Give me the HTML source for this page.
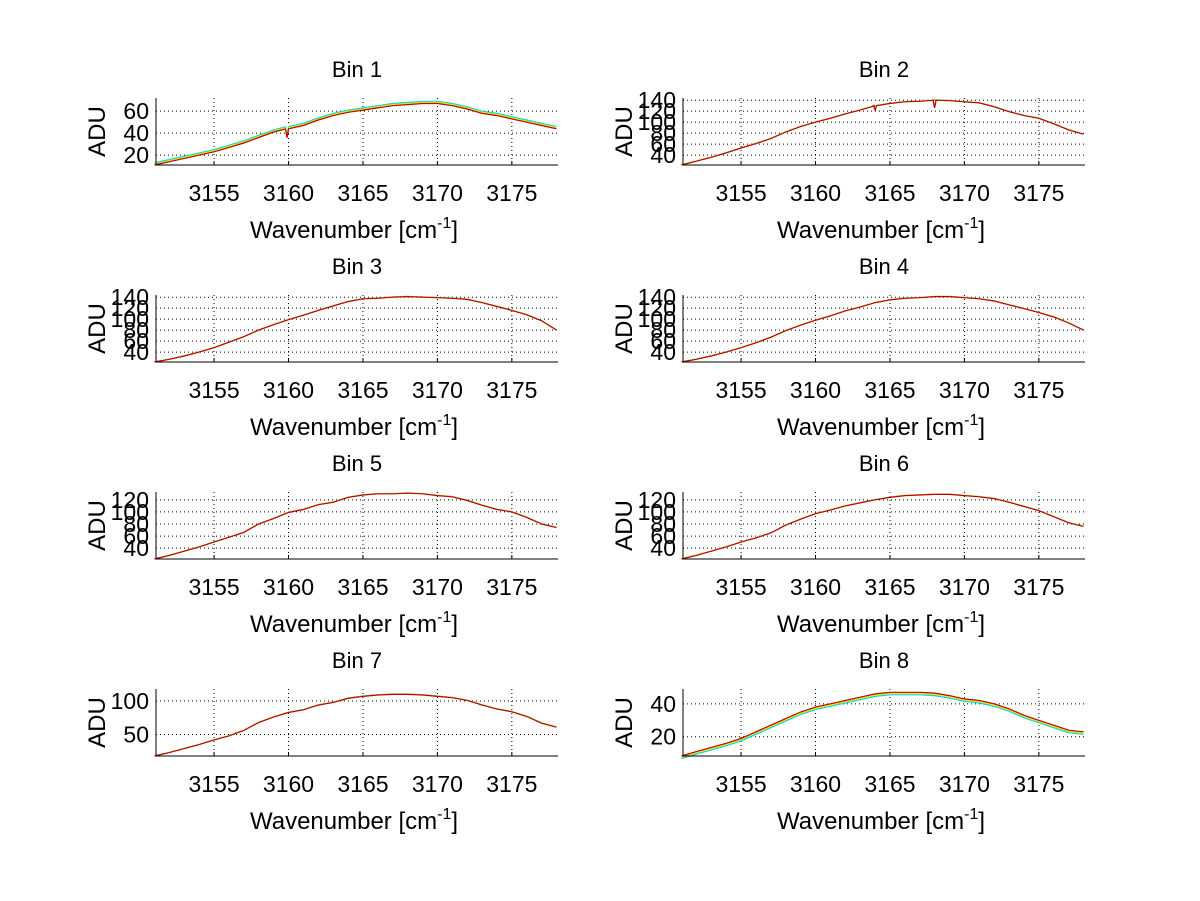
<!DOCTYPE html>
<html><head><meta charset="utf-8">
<style>
html,body{margin:0;padding:0;background:#fff;}
svg{display:block;font-family:"Liberation Sans",sans-serif;}
</style></head>
<body>
<svg id="fig" width="1200" height="901" viewBox="0 0 1200 901" xmlns="http://www.w3.org/2000/svg"></svg>
<script>
// ---- data ----
const wavenumbers = [3151,3152,3153,3154,3155,3156,3157,3158,3159,3160,3161,3162,3163,3164,3165,3166,3167,3168,3169,3170,3171,3172,3173,3174,3175,3176,3177,3178];
const binTitles = ["Bin 1","Bin 2","Bin 3","Bin 4","Bin 5","Bin 6","Bin 7","Bin 8"];
const bin1 = [11,14,17,20,23,27,31,36,41,44,47,52,56,59,61,63,65,66,67,67,65,62,58,56,53,50,47,44];
const bin2 = [22,29,36,44,53,61,70,82,92,100,107,115,122,130,134,137,138,140,139,137,135,128,119,112,107,97,86,78];
const bin3 = [22,27,33,40,48,58,68,80,90,99,107,116,124,132,137,138,140,141,140,139,138,136,130,123,116,108,97,80];
const bin4 = [22,27,33,40,48,57,67,79,89,98,106,115,122,130,135,138,139,141,141,139,137,133,126,119,112,104,93,80];
const bin5 = [22,28,35,42,50,58,66,80,89,99,104,112,116,124,128,130,130,131,130,127,125,119,111,104,100,91,80,74];
const bin6 = [22,28,35,42,50,57,65,78,88,97,103,110,115,120,124,127,128,129,129,127,125,122,116,109,102,92,82,76];
const bin7 = [18,23,29,35,42,48,56,68,76,83,87,94,98,104,107,109,110,110,109,107,105,101,94,88,84,77,67,61];
const bin8 = [8.3,11,13.5,16,19,23,27,31,35,38,40,42,44,46,47,47,47,46.5,45,43,42,40,37,33,30,27,24,23];
const binValues = [bin1,bin2,bin3,bin4,bin5,bin6,bin7,bin8];
const seriesOffsets1 = [2,1,0];      // cyan, yellow, red (bin 1)
const seriesOffsets8 = [-1.5,-0.7,0]; // cyan, yellow, red (bin 8)
const seriesOffsetsOther = [0.5,0.3,0];
const yLimits = [[11,72],[22,144],[22,144],[22,144],[22,133],[22,133],[18,118],[8.3,49]];
const yTicks = [[20,40,60],[40,60,80,100,120,140],[40,60,80,100,120,140],[40,60,80,100,120,140],[40,60,80,100,120],[40,60,80,100,120],[50,100],[20,40]];
const xTicks = [3155,3160,3165,3170,3175];
const xLimits = [3151.1,3178.1];
const dipWn = [[3159.9],[3164.0,3168.0],[],[],[],[],[],[]];
const dipDepth = [[8],[8,14],[],[],[],[],[],[]];

// ---- drawing ----
const NS="http://www.w3.org/2000/svg";
const svg=document.getElementById('fig');
const colors=["#00d8d8","#e8e800","#c00000"];
function mk(tag,attrs,parent){const e=document.createElementNS(NS,tag);for(const k in attrs)e.setAttribute(k,attrs[k]);(parent||svg).appendChild(e);return e;}
for(let b=0;b<8;b++){
  const col=b%2,row=Math.floor(b/2);
  const L=col?683:156,R=col?1085:558,B=165+197*row,T=B-67;
  const xs=v=>L+(v-xLimits[0])/(xLimits[1]-xLimits[0])*(R-L);
  const ys=v=>B-(v-yLimits[b][0])/(yLimits[b][1]-yLimits[b][0])*(B-T);
  const g=mk('g',{});
  
  
  xTicks.forEach(t=>{const l=mk('line',{x1:xs(t),x2:xs(t),y1:T,y2:B,stroke:'#000','stroke-width':1,'stroke-dasharray':'1,3'},g);
    
    const tk=mk('line',{x1:xs(t),x2:xs(t),y1:B,y2:B-4,stroke:'#000'},g);
    
    const tx=mk('text',{x:xs(t),y:B+36,'font-size':23,'text-anchor':'middle'},g);tx.textContent=t;
    });
  yTicks[b].forEach(t=>{const l=mk('line',{x1:L,x2:R,y1:ys(t),y2:ys(t),stroke:'#000','stroke-width':1,'stroke-dasharray':'1,3'},g);
    
    const tx=mk('text',{x:L-7,y:ys(t)+8,'font-size':23,'text-anchor':'end'},g);tx.textContent=t;
    });
  const offs=b===0?seriesOffsets1:(b===7?seriesOffsets8:seriesOffsetsOther);
  offs.forEach((o,si)=>{
    const pts=[];
    wavenumbers.forEach((w,i)=>{
      pts.push([w,binValues[b][i]+o]);
      dipWn[b].forEach((d,di)=>{if(d>=w&&d<w+1&&i<wavenumbers.length-1){
        const f=(d-w);const base=binValues[b][i]+(binValues[b][i+1]-binValues[b][i])*f+o;
        pts.push([d-0.1,base]);pts.push([d,base-dipDepth[b][di]]);pts.push([d+0.1,base]);}});
    });
    const p=mk('polyline',{points:pts.map(q=>xs(q[0]).toFixed(1)+','+ys(q[1]).toFixed(1)).join(' '),fill:'none',stroke:colors[si],'stroke-width':1.2},g);
    
    
  });
  const ax=mk('path',{d:`M${L},${T}V${B}H${R}`,fill:'none',stroke:'#000','stroke-width':1},g);
  
  const ti=mk('text',{x:(L+R)/2,y:T-21,'font-size':22,'text-anchor':'middle'},g);ti.textContent=binTitles[b];
  
  const yl=mk('text',{x:0,y:0,'font-size':24,'text-anchor':'middle',transform:`translate(${L-51},${(T+B)/2}) rotate(-90)`},g);yl.textContent='ADU';
  
  const xl=mk('text',{x:(L+R)/2-3,y:B+73,'font-size':24,'text-anchor':'middle'},g);
  
  xl.appendChild(document.createTextNode('Wavenumber [cm'));
  const sp=mk('tspan',{dy:-10,'font-size':16},xl);sp.textContent='-1';
  const sp2=mk('tspan',{dy:10},xl);sp2.textContent=']';
}
</script>
</body></html>
